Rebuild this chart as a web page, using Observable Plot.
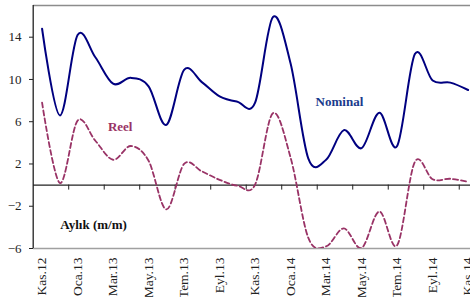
<!DOCTYPE html>
<html>
<head>
<meta charset="utf-8">
<script src="https://cdn.jsdelivr.net/npm/d3@7"></script>
<script src="https://cdn.jsdelivr.net/npm/@observablehq/plot@0.6"></script>
<style>
  html, body { margin: 0; padding: 0; background: #fff; overflow: hidden; }
  svg { display: block; }
  svg text { font-family: "Liberation Serif", "DejaVu Serif", serif !important; }
</style>
</head>
<body>
<div id="chart"></div>
<script>
// Months from Kas.12 (Nov 2012) to Kas.14 (Nov 2014)
const months = ["Kas.12","Ara.12","Oca.13","Şub.13","Mar.13","Nis.13","May.13","Haz.13","Tem.13","Ağu.13","Eyl.13","Eki.13",
                "Kas.13","Ara.13","Oca.14","Şub.14","Mar.14","Nis.14","May.14","Haz.14","Tem.14","Ağu.14","Eyl.14","Eki.14","Kas.14"];
const nominal = [14.8, 6.6, 14.2, 12.1, 9.6, 10.15, 9.35, 5.7, 10.9, 9.75, 8.4, 7.9,
                 7.8, 15.9, 11.5, 2.5, 2.4, 5.2, 3.5, 6.85, 3.7, 12.4, 9.9, 9.7, 9.0];
const reel = [7.8, 0.2, 6.1, 4.2, 2.4, 3.7, 2.3, -2.3, 2.0, 1.3, 0.5, -0.05,
              0.05, 6.8, 2.6, -5.0, -5.8, -4.1, -5.95, -2.5, -5.7, 2.2, 0.55, 0.6, 0.3];
const yTicks = [-6, -2, 2, 6, 10, 14];
const labelEvery = 2;
const seriesLabels = ["Nominal", "Reel", "Aylık (m/m)"];

const nominalData = nominal.map((v, i) => ({i, v}));
const reelData = reel.map((v, i) => ({i, v}));
const labelTicks = months.map((m, i) => i).filter(i => i % labelEvery === 0);
const boundaryTicks = labelTicks.filter(i => i < months.length - 1).map(i => i + 1.5);

const font = "'Liberation Serif', 'DejaVu Serif', serif";

const chart = Plot.plot({
  width: 470,
  height: 297,
  marginTop: 5,
  marginBottom: 49,
  marginLeft: 33,
  marginRight: 0,
  style: {fontFamily: font, fontSize: "13px", color: "#222", background: "#fff"},
  x: {domain: [-0.5, months.length - 0.5], range: [32.7, 476.5]},
  y: {domain: [-6, 17], range: [248, 5]},
  marks: [
    Plot.ruleY([17], {stroke: "#8c8c8c", strokeWidth: 1.6}),
    Plot.ruleY([-6], {stroke: "#a0a0a0", strokeWidth: 1.6}),
    Plot.ruleY([0], {stroke: "#222", strokeWidth: 1.2}),
    Plot.ruleX(boundaryTicks, {y1: 0, y2: 0, insetBottom: -5, stroke: "#222", strokeWidth: 1}),
    Plot.ruleX([-0.5], {stroke: "#222", strokeWidth: 1.3}),
    Plot.axisY(yTicks, {tickSize: 4, tickPadding: 8, fontSize: 13, fontFamily: font, stroke: "#222", fill: "#222", label: null}),
    Plot.axisX(labelTicks, {tickFormat: d => months[d], tickRotate: -90, tickSize: 0, tickPadding: 9, fontSize: 13.5, fontFamily: font, fill: "#222", label: null}),
    Plot.line(reelData, {x: "i", y: "v", curve: "cardinal", stroke: "#993366", strokeWidth: 1.8, strokeDasharray: "5,3", clip: "frame"}),
    Plot.line(nominalData, {x: "i", y: "v", curve: "cardinal", stroke: "#000080", strokeWidth: 2, clip: "frame"}),
    Plot.text([seriesLabels[0]], {x: 16.75, y: 7.9, text: d => d, fill: "#1a3a8c", fontWeight: "bold", fontSize: 13, fontFamily: font}),
    Plot.text([seriesLabels[1]], {x: 4.4, y: 5.55, text: d => d, fill: "#993366", fontWeight: "bold", fontSize: 13, fontFamily: font}),
    Plot.text([seriesLabels[2]], {x: 2.9, y: -3.8, text: d => d, fill: "#111", fontWeight: "bold", fontSize: 13, fontFamily: font})
  ]
});
document.getElementById("chart").append(chart);
</script>
</body>
</html>
